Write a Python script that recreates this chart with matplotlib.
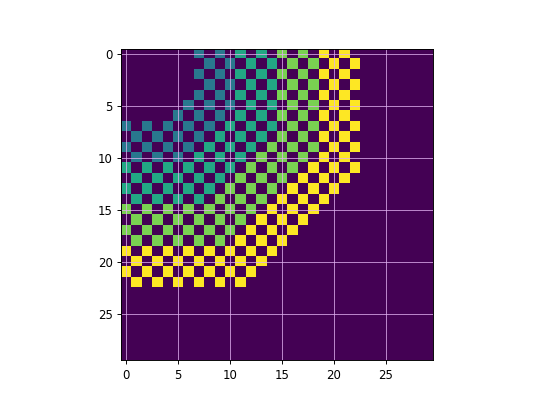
import matplotlib

matplotlib.use("Agg")

import matplotlib.pyplot as plt
import numpy as np

# 30x30 grid: "." = background (0), digits = level
ROWS = [
    ".......2.2.3.3.4.4.5.5........",
    "........2.2.3.3.4.4.5.5.......",
    ".......2.2.3.3.4.4.5.5........",
    "........2.2.3.3.4.4.5.5.......",
    ".......2.2.3.3.4.4.5.5........",
    "......2.2.2.3.3.4.4.5.5.......",
    ".....2.2.2.3.3.4.4.5.5........",
    "2.2.2.2.2.3.3.3.4.4.5.5.......",
    ".2.2.2.2.3.3.3.4.4.5.5........",
    "2.2.2.2.3.3.3.4.4.4.5.5.......",
    ".2.2.2.3.3.3.4.4.4.5.5........",
    "3.3.3.3.3.3.4.4.4.5.5.5.......",
    ".3.3.3.3.3.4.4.4.5.5.5........",
    "3.3.3.3.3.4.4.4.5.5.5.........",
    ".3.3.3.3.4.4.4.5.5.5..........",
    "4.4.4.4.4.4.4.5.5.5...........",
    ".4.4.4.4.4.4.5.5.5............",
    "4.4.4.4.4.4.5.5.5.............",
    ".4.4.4.4.4.5.5.5..............",
    "5.5.5.5.5.5.5.5...............",
    ".5.5.5.5.5.5.5................",
    "5.5.5.5.5.5.5.................",
    ".5.5.5.5.5.5..................",
    "..............................",
    "..............................",
    "..............................",
    "..............................",
    "..............................",
    "..............................",
    "..............................",
]

data = np.array([[0 if ch == "." else int(ch) for ch in row] for row in ROWS], dtype=float)

fig, ax = plt.subplots(figsize=(6.4, 4.8))
ax.imshow(data, cmap="viridis", vmin=0, vmax=5)
ax.grid(True, color="#e0b0f0", linewidth=0.8, alpha=0.8)
fig.savefig("out.png", dpi=84.375)
